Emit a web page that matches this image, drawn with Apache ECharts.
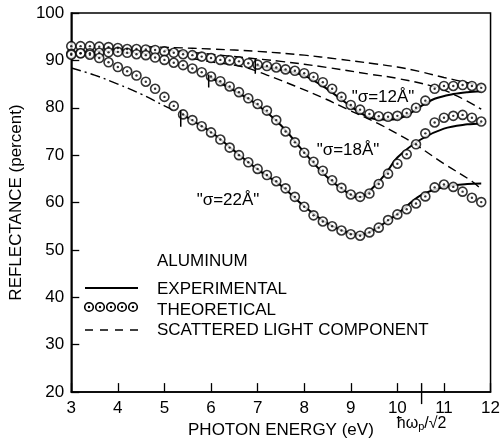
<!DOCTYPE html>
<html>
<head>
<meta charset="utf-8">
<script src="https://cdn.jsdelivr.net/npm/echarts@6/dist/echarts.min.js"></script>
<style>
  html, body { margin: 0; padding: 0; background: #fff; }
  #chart { width: 503px; height: 444px; }
</style>
</head>
<body>
<div id="chart"></div>
<script>
// Photon energy (eV) sampling of the computed reflectance
const theoEnergy = [3.0, 3.2, 3.4, 3.6, 3.8, 4.0, 4.2, 4.4, 4.6, 4.8, 5.0, 5.2, 5.4, 5.6, 5.8,
  6.0, 6.2, 6.4, 6.6, 6.8, 7.0, 7.2, 7.4, 7.6, 7.8, 8.0, 8.2, 8.4, 8.6, 8.8,
  9.0, 9.2, 9.4, 9.6, 9.8, 10.0, 10.2, 10.4, 10.6, 10.8, 11.0, 11.2, 11.4, 11.6, 11.8];

// Theoretical reflectance (percent) for each roughness
const theoSigma12 = [93.0, 93.0, 93.0, 92.9, 92.8, 92.6, 92.4, 92.4, 92.3, 92.2, 91.9, 91.6, 91.3, 91.1, 90.8,
  90.5, 90.1, 90.0, 89.8, 89.4, 89.1, 88.8, 88.5, 88.1, 87.8, 87.3, 86.5, 85.4, 84.0, 82.3,
  80.6, 79.6, 78.7, 78.2, 78.1, 78.3, 78.9, 80.0, 81.5, 84.0, 84.6, 84.6, 84.8, 84.6, 84.2];
const theoSigma18 = [91.4, 91.5, 91.5, 91.6, 91.7, 91.8, 91.6, 91.3, 91.1, 90.6, 90.1, 89.5, 89.0, 88.3, 87.5,
  86.6, 85.6, 84.5, 83.3, 82.0, 80.8, 79.4, 77.4, 75.0, 72.7, 70.5, 68.6, 66.7, 64.7, 63.1,
  61.7, 61.2, 61.9, 63.9, 66.1, 68.2, 70.2, 72.3, 74.6, 76.9, 77.9, 78.3, 78.5, 77.9, 77.1];
const theoSigma22 = [91.2, 91.5, 91.2, 90.5, 89.6, 88.6, 87.7, 86.8, 85.5, 84.0, 82.3, 80.4, 78.6, 77.4, 76.1,
  74.8, 73.3, 71.6, 70.0, 68.5, 67.1, 65.8, 64.5, 63.0, 61.2, 59.1, 57.3, 56.0, 55.0, 54.1,
  53.3, 53.0, 53.7, 54.7, 56.3, 57.5, 58.6, 59.8, 61.3, 63.2, 63.8, 63.3, 62.3, 61.0, 60.1];

// Measured reflectance
const exp12Energy = [6.95, 7.5, 8.0, 8.5, 9.0, 9.3, 9.6, 9.9, 10.2, 10.5, 10.8, 11.2, 11.5, 11.8];
const exp12Value  = [88.9, 88.0, 86.8, 83.9, 80.3, 78.4, 77.5, 77.5, 78.4, 80.3, 81.9, 82.9, 83.3, 83.5];
const exp18Energy = [5.95, 6.5, 7.0, 7.5, 8.0, 8.5, 9.0, 9.2, 9.5, 9.75, 10.0, 10.5, 11.0, 11.5, 11.8];
const exp18Value  = [86.6, 83.6, 80.6, 76.3, 70.6, 65.3, 61.6, 61.1, 63.4, 66.1, 69.5, 73.3, 75.6, 76.5, 76.7];
const exp22Energy = [5.35, 5.5, 6.0, 6.5, 7.0, 7.5, 8.0, 8.5, 9.0, 9.2, 9.5, 10.0, 10.5, 11.0, 11.5, 11.8];
const exp22Value  = [79.0, 77.9, 74.9, 70.9, 67.0, 63.6, 59.2, 55.6, 53.4, 53.2, 54.3, 57.6, 61.5, 63.3, 63.9, 64.0];

// Scattered light components
const scatUpperEnergy  = [4.6, 5.2, 6.0, 7.0, 8.0, 8.7, 9.5, 10.0, 10.5, 11.0, 11.5, 11.8];
const scatUpperValue   = [92.9, 92.7, 92.4, 91.9, 91.1, 90.3, 89.3, 88.6, 87.6, 86.4, 85.3, 84.6];
const scatMiddleEnergy = [5.0, 6.0, 6.7, 7.5, 8.5, 9.4, 10.0, 10.8, 11.3, 11.8];
const scatMiddleValue  = [92.2, 91.3, 90.6, 89.8, 88.5, 87.1, 86.2, 84.4, 82.4, 79.7];
const scatLowerEnergy  = [5.6, 6.0, 6.7, 7.2, 7.8, 8.45, 8.9, 9.58, 10.0, 10.35, 11.0, 11.6, 11.8];
const scatLowerValue   = [90.4, 89.7, 88.6, 86.9, 84.6, 81.9, 79.8, 76.7, 74.5, 72.5, 68.2, 64.5, 62.8];
const scatDashDotEnergy = [3.0, 3.5, 4.0, 4.5, 5.0, 5.2];
const scatDashDotValue  = [88.4, 86.9, 85.0, 82.9, 80.4, 79.5];

// Short markers where the measured curves begin
const startMarkers = [
  [[6.95, 90.3], [6.95, 87.2]],
  [[5.95, 87.0], [5.95, 84.3]],
  [[5.35, 79.5], [5.35, 76.0]]
];

// Axis ticks
const energyTicks = [3, 4, 5, 6, 7, 8, 9, 10, 11, 12];
const reflectanceTicks = [20, 30, 40, 50, 60, 70, 80, 90, 100];
const plasmaEdge = 10.52; // ħω_p/√2

const FONT = 'Liberation Sans';
const zip = (xs, ys) => xs.map((x, i) => [x, ys[i]]);

function expSeries(xs, ys) {
  return { type: 'line', data: zip(xs, ys), smooth: 0.35, showSymbol: false,
    lineStyle: { color: '#000', width: 2 }, z: 3, silent: true };
}
function theoSeries(ys) {
  return [
    { type: 'scatter', data: zip(theoEnergy, ys), symbol: 'circle', symbolSize: 9,
      itemStyle: { color: '#fff', borderColor: '#000', borderWidth: 1.6 }, z: 5, silent: true },
    { type: 'scatter', data: zip(theoEnergy, ys), symbol: 'circle', symbolSize: 2.4,
      itemStyle: { color: '#000' }, z: 6, silent: true }
  ];
}
function scatSeries(xs, ys, dash) {
  return { type: 'line', data: zip(xs, ys), smooth: 0.4, showSymbol: false,
    lineStyle: { color: '#000', width: 1.4, type: dash }, z: 2, silent: true };
}

const series = [
  scatSeries(scatUpperEnergy, scatUpperValue, [9, 5]),
  scatSeries(scatMiddleEnergy, scatMiddleValue, [9, 5]),
  scatSeries(scatLowerEnergy, scatLowerValue, [9, 5]),
  scatSeries(scatDashDotEnergy, scatDashDotValue, [10, 4, 2, 4]),
  expSeries(exp12Energy, exp12Value),
  expSeries(exp18Energy, exp18Value),
  expSeries(exp22Energy, exp22Value),
  ...theoSeries(theoSigma12),
  ...theoSeries(theoSigma18),
  ...theoSeries(theoSigma22),
  ...startMarkers.map(seg => ({ type: 'line', data: seg, showSymbol: false,
    lineStyle: { color: '#000', width: 1.5 }, z: 7, silent: true }))
];

const chart = echarts.init(document.getElementById('chart'));
const axisText = { color: '#000', fontFamily: FONT, fontSize: 17 };

chart.setOption({
  animation: false,
  backgroundColor: '#fff',
  grid: { left: 62, right: 7, top: 13, bottom: 47, show: true, borderColor: '#000', borderWidth: 1.5 },
  xAxis: {
    type: 'value', min: energyTicks[0], max: energyTicks[energyTicks.length - 1], interval: 1,
    name: 'PHOTON ENERGY (eV)', nameLocation: 'middle', nameGap: 25,
    nameTextStyle: { color: '#000', fontFamily: FONT, fontSize: 17 },
    axisLine: { lineStyle: { color: '#000', width: 1.5 } },
    axisTick: { inside: true, length: 9, lineStyle: { color: '#000', width: 1.3 } },
    axisLabel: Object.assign({ margin: 8 }, axisText),
    splitLine: { show: false }
  },
  yAxis: {
    type: 'value', min: reflectanceTicks[0], max: reflectanceTicks[reflectanceTicks.length - 1], interval: 10,
    name: 'REFLECTANCE (percent)', nameLocation: 'middle', nameGap: 36, nameRotate: 90,
    nameTextStyle: { color: '#000', fontFamily: FONT, fontSize: 17 },
    axisLine: { lineStyle: { color: '#000', width: 1.5 } },
    axisTick: { inside: true, length: 8, lineStyle: { color: '#000', width: 1.3 } },
    axisLabel: Object.assign({ margin: 7 }, axisText),
    splitLine: { show: false }
  },
  series: series
});

// Plasma-edge tick and its label, plus annotations and the key
const edgeTop = chart.convertToPixel({ gridIndex: 0 }, [plasmaEdge, 20]);
const txt = (x, y, text, align, size) => ({
  type: 'text', x: x, y: y, silent: true,
  style: { text: text, fill: '#000', font: (size || 17) + 'px "' + FONT + '"',
    textAlign: align || 'left', textVerticalAlign: 'middle' }
});
const keyCircles = [89, 100, 111, 122, 133].flatMap(cx => [
  { type: 'circle', shape: { cx: cx, cy: 307, r: 4.3 }, style: { fill: '#fff', stroke: '#000', lineWidth: 1.6 } },
  { type: 'circle', shape: { cx: cx, cy: 307, r: 1.2 }, style: { fill: '#000' } }
]);

chart.setOption({
  graphic: [
    { type: 'line', shape: { x1: edgeTop[0], y1: edgeTop[1] - 9, x2: edgeTop[0], y2: edgeTop[1] + 12 },
      style: { stroke: '#000', lineWidth: 1.4 } },
    { type: 'text', x: edgeTop[0], y: 424, silent: true,
      style: { rich: { n: { fontFamily: FONT, fontSize: 16, fill: '#000' },
                       s: { fontFamily: FONT, fontSize: 11, fill: '#000', verticalAlign: 'bottom', padding: [6, 0, 0, 0] } },
               text: '{n|ħω}{s|p}{n|/√2}', textAlign: 'center', textVerticalAlign: 'middle' } },
    txt(383, 97, '"σ=12Å"', 'center'),
    txt(348, 150, '"σ=18Å"', 'center'),
    txt(228, 200, '"σ=22Å"', 'center'),
    txt(157, 261, 'ALUMINUM'),
    { type: 'line', shape: { x1: 85, y1: 288, x2: 138, y2: 288 }, style: { stroke: '#000', lineWidth: 2 } },
    txt(157, 289, 'EXPERIMENTAL'),
    ...keyCircles,
    txt(157, 310, 'THEORETICAL'),
    { type: 'line', shape: { x1: 85, y1: 330, x2: 138, y2: 330 }, style: { stroke: '#000', lineWidth: 1.4, lineDash: [8, 7] } },
    txt(157, 330, 'SCATTERED LIGHT COMPONENT')
  ]
});
</script>
</body>
</html>
